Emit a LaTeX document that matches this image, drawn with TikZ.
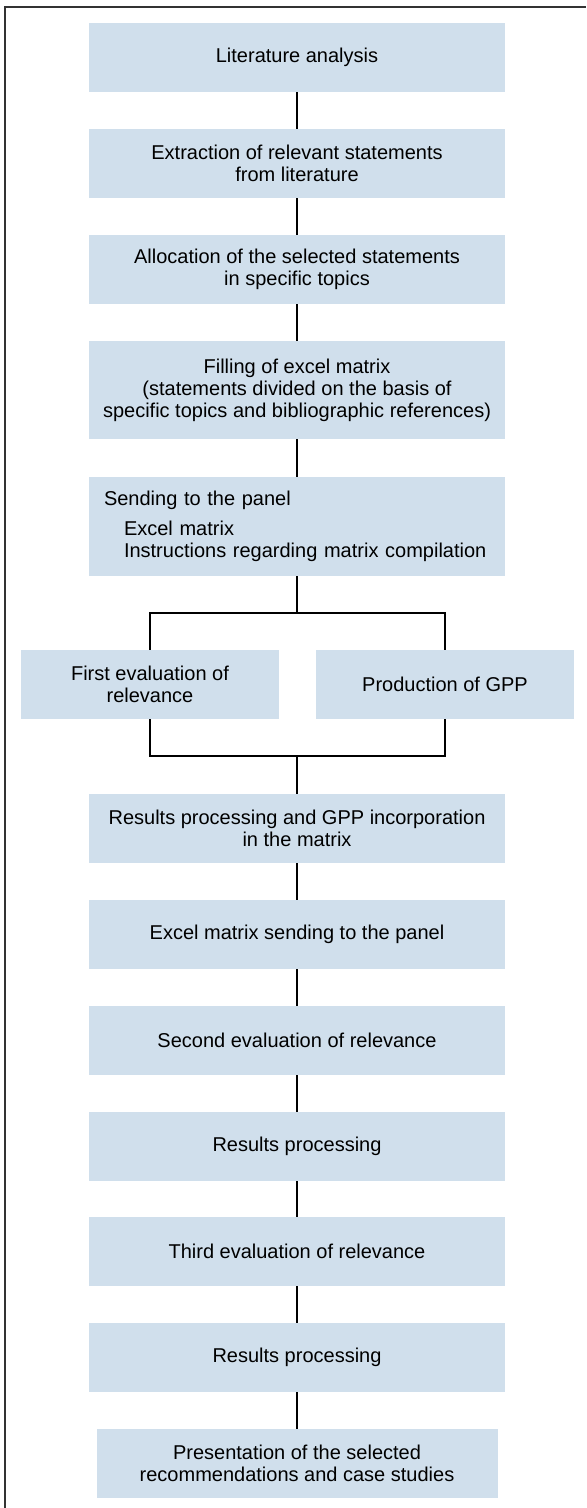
\documentclass[tikz,border=0pt]{standalone}
\usepackage{fontspec}
\setmainfont{Liberation Sans}
\usetikzlibrary{positioning}
\definecolor{stageblue}{RGB}{208,223,236}

\begin{document}
\begin{tikzpicture}[x=0.5pt, y=-0.5pt,
    stage/.style={fill=stageblue, minimum width=208pt, minimum height=34.5pt,
      inner sep=0pt, align=center, font=\fontsize{10}{11}\selectfont},
    link/.style={line width=0.65pt}]
  \useasboundingbox (0,0) rectangle (586,1508);
  % frame
  \draw[line width=0.6pt, black!80] (5,1508) -- (5,7) -- (586,7);

  \node[stage] (lit) at (297,57.5) {Literature analysis};
  \node[stage] (extr) at (297,163.5) {Extraction of relevant statements\\from literature};
  \node[stage] (alloc) at (297,269.5) {Allocation of the selected statements\\in specific topics};
  \node[stage, minimum height=49pt] (fill) at (297,390)
    {Filling of excel matrix\\(statements divided on the basis of\\specific topics and bibliographic references)};
  \node[stage, minimum height=49.5pt, align=left, text width=193pt, inner xsep=7.5pt] (send) at (297,526.5)
    {Sending to the panel\\[4pt]
     \hspace*{10pt}Excel matrix\\
     \hspace*{10pt}Instructions regarding matrix compilation};

  % the two parallel branches
  \node[stage, minimum width=129pt] (first) at (150,684.5) {First evaluation of\\relevance};
  \node[stage, minimum width=129pt] (gpp) at (445,684.5) {Production of GPP};
  \coordinate (split) at (297,613);
  \coordinate (join) at (297,756);

  \node[stage] (resgpp) at (297,828.5) {Results processing and GPP incorporation\\in the matrix};
  \foreach \nm/\yc/\txt in {excel/934.5/Excel matrix sending to the panel,
      second/1040.5/Second evaluation of relevance,
      resa/1146.5/Results processing,
      third/1251.5/Third evaluation of relevance,
      resb/1357.5/Results processing} {
    \node[stage] (\nm) at (297,\yc) {\txt};
  }
  \node[stage, minimum width=200.5pt] (pres) at (297,1463.5)
    {Presentation of the selected\\recommendations and case studies};

  \foreach \a/\b in {lit/extr, extr/alloc, alloc/fill, fill/send,
      resgpp/excel, excel/second, second/resa, resa/third, third/resb, resb/pres} {
    \draw[link] (\a) -- (\b);
  }
  \draw[link] (send) -- (split);
  \draw[link] (first.north) |- (split) -| (gpp.north);
  \draw[link] (first.south) |- (join) -| (gpp.south);
  \draw[link] (join) -- (resgpp);
\end{tikzpicture}
\end{document}
